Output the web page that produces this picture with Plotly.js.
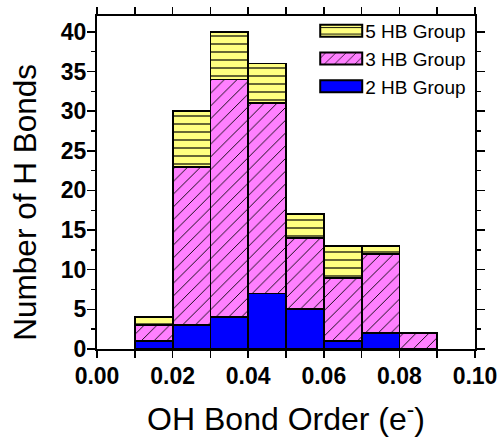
<!DOCTYPE html>
<html>
<head>
<meta charset="utf-8">
<script src="https://cdn.plot.ly/plotly-3.0.1.min.js"></script>
<style>html,body{margin:0;padding:0;background:#fff;}#chart{width:504px;height:442px;}</style>
</head>
<body>
<div id="chart"></div>
<script>
// Bin centers of OH bond order (bin width 0.01)
const binCenters = [0.015, 0.025, 0.035, 0.045, 0.055, 0.065, 0.075, 0.085];
const binWidth = 0.01;
// Counts per group (stacked)
const hb2 = [1, 3, 4, 7, 5, 1, 2, 0];
const hb3 = [2, 20, 30, 24, 9, 8, 10, 2];
const hb5 = [1, 7, 6, 5, 3, 4, 1, 0];
const xTickVals = [0, 0.02, 0.04, 0.06, 0.08, 0.10];
const xTickText = ['0.00', '0.02', '0.04', '0.06', '0.08', '0.10'];
const yTickVals = [0, 5, 10, 15, 20, 25, 30, 35, 40];
const xTitle = 'OH Bond Order (e<sup>-</sup>)';
const yTitle = 'Number of H Bonds';

const font = 'Liberation Sans, Arial, Helvetica, sans-serif';
const widths = binCenters.map(() => binWidth);
const lineStyle = {color: '#000', width: 1.8};

const traces = [
  {
    type: 'bar', name: '2 HB Group', x: binCenters, y: hb2, width: widths,
    marker: {color: '#0000FF', line: lineStyle}
  },
  {
    type: 'bar', name: '3 HB Group', x: binCenters, y: hb3, width: widths,
    marker: {color: '#FF80FF', line: lineStyle,
      pattern: {shape: '/', bgcolor: '#FF80FF', fgcolor: '#000', size: 9, solidity: 0.1}}
  },
  {
    type: 'bar', name: '5 HB Group', x: binCenters, y: hb5, width: widths,
    marker: {color: '#FFFF80', line: lineStyle,
      pattern: {shape: '-', bgcolor: '#FFFF80', fgcolor: '#000', size: 8, solidity: 0.15}}
  }
];

const layout = {
  width: 504, height: 442,
  margin: {l: 97, r: 29, t: 13, b: 93},
  barmode: 'stack',
  paper_bgcolor: '#fff', plot_bgcolor: '#fff',
  showlegend: true,
  legend: {
    x: 0.99, xanchor: 'right', y: 1.012, yanchor: 'top',
    traceorder: 'reversed', bgcolor: 'rgba(0,0,0,0)',
    font: {family: font, size: 19, color: '#000'},
    itemwidth: 40, tracegroupgap: 0
  },
  xaxis: {
    range: [0, 0.1], showgrid: false, zeroline: false,
    tickmode: 'array', tickvals: xTickVals, ticktext: xTickText,
    ticks: 'outside', ticklen: 7, tickwidth: 1.5, tickcolor: '#000',
    minor: {dtick: 0.01, tick0: 0, ticks: 'outside', ticklen: 7, tickwidth: 1.5, tickcolor: '#000', showgrid: false},
    showline: true, linewidth: 2, linecolor: '#000', mirror: 'allticks',
    tickfont: {family: font, size: 23, color: '#000', weight: 'bold'},
    ticklabelstandoff: -2,
    title: {text: xTitle, font: {family: font, size: 32, color: '#000'}, standoff: 20}
  },
  yaxis: {
    range: [0, 42], showgrid: false, zeroline: false,
    tickmode: 'array', tickvals: yTickVals,
    ticks: 'outside', ticklen: 8, tickwidth: 1.5, tickcolor: '#000',
    minor: {dtick: 2.5, tick0: 0, ticks: 'outside', ticklen: 4, tickwidth: 1.5, tickcolor: '#000', showgrid: false},
    showline: true, linewidth: 2, linecolor: '#000', mirror: 'allticks',
    tickfont: {family: font, size: 23, color: '#000', weight: 'bold'},
    ticklabelstandoff: -4
  },
  annotations: [{
    text: yTitle, textangle: -90, showarrow: false,
    xref: 'paper', yref: 'paper', x: -0.19, y: 0.44,
    xanchor: 'center', yanchor: 'middle',
    font: {family: font, size: 31.5, color: '#000'}
  }]
};

Plotly.newPlot('chart', traces, layout, {staticPlot: true, displayModeBar: false}).then(function () {
  // widen legend swatches so they look like the reference's wide boxes
  document.querySelectorAll('#chart .legend .traces').forEach(function (g) {
    var txt = g.querySelector('text.legendtext');
    var pts = g.querySelectorAll('.legendpoints path');
    if (!txt || !pts.length) return;
    var tb = txt.getBoundingClientRect();
    pts.forEach(function (p) {
      var pb = p.getBoundingClientRect();
      var cx = pb.left + pb.width / 2;
      var right = (tb.left - 3) - cx;
      var left = right - 42;
      p.setAttribute('d', 'M' + right + ',6H' + left + 'V-6H' + right + 'Z');
      p.style.strokeWidth = '2px';
      p.style.stroke = '#000';
    });
  });
});
</script>
</body>
</html>
